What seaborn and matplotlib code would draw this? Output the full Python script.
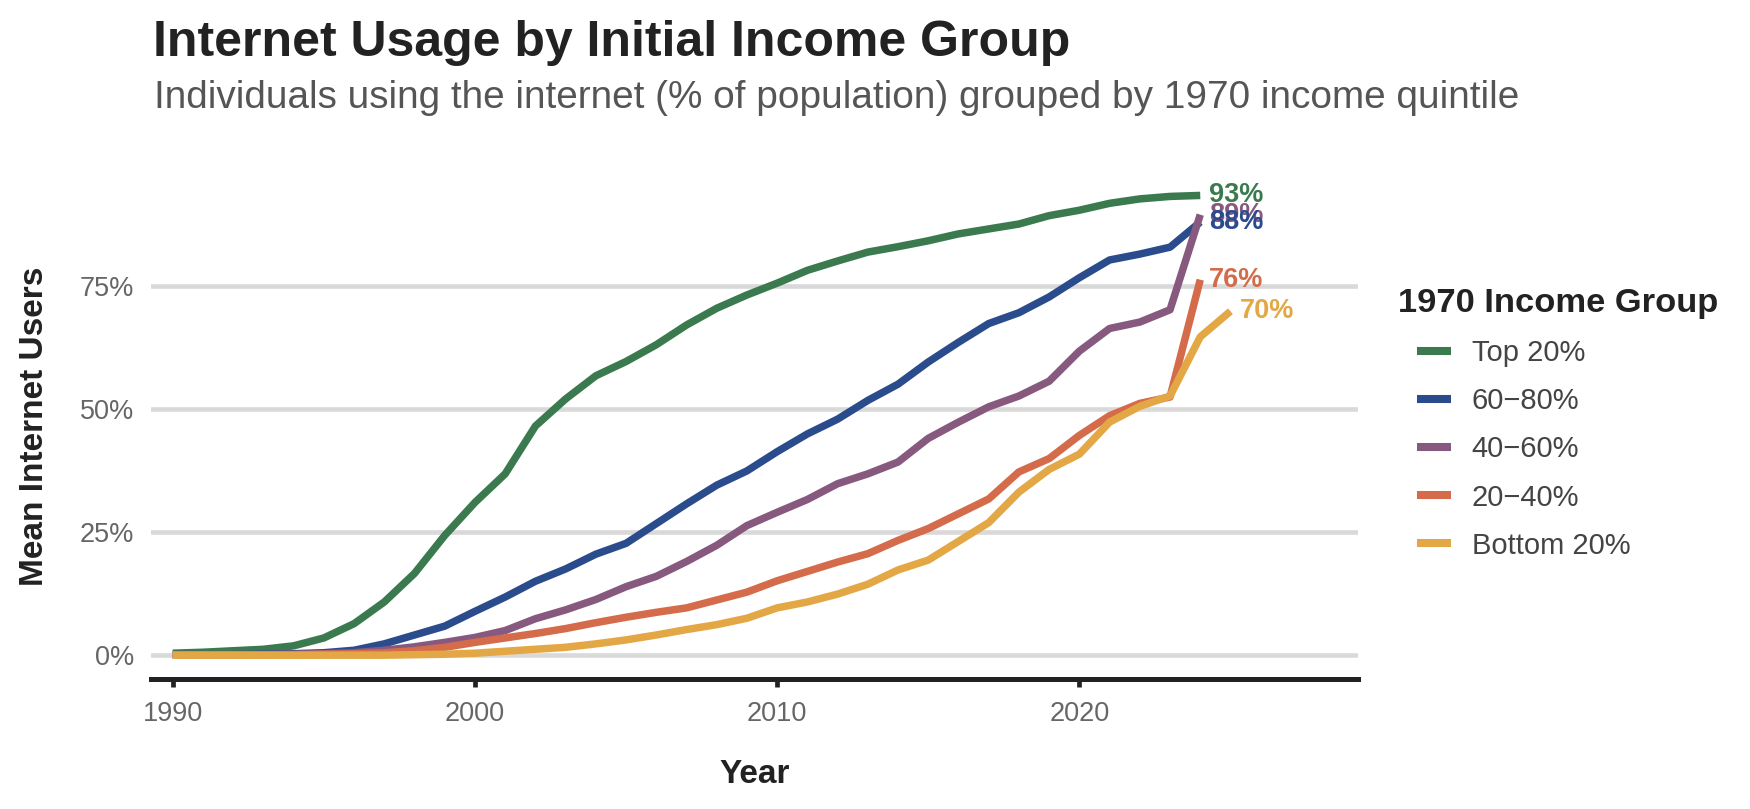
import numpy as np
import pandas as pd
import matplotlib
matplotlib.use("Agg")
import matplotlib.pyplot as plt
import seaborn as sns
from matplotlib.lines import Line2D
from matplotlib.legend_handler import HandlerLine2D

# ---------------- data ----------------
years = list(range(1990, 2025))
years_bottom = list(range(1990, 2026))

top20 = [0.4, 0.6, 0.9, 1.2, 1.9, 3.5, 6.4, 10.8, 16.6, 24.3, 31.0, 36.8, 46.5, 52.0, 56.7,
         59.6, 63.0, 67.0, 70.4, 73.1, 75.5, 78.1, 80.0, 81.8, 82.9, 84.1, 85.5, 86.5, 87.5,
         89.2, 90.3, 91.7, 92.6, 93.1, 93.3]
q60_80 = [0.1, 0.1, 0.1, 0.2, 0.3, 0.5, 1.0, 2.3, 4.1, 5.9, 8.9, 11.8, 15.0, 17.5, 20.5,
          22.7, 26.7, 30.7, 34.5, 37.4, 41.3, 44.9, 47.9, 51.7, 55.0, 59.5, 63.5, 67.3, 69.5,
          72.7, 76.6, 80.2, 81.4, 82.8, 87.9]
q40_60 = [0.1, 0.1, 0.1, 0.1, 0.2, 0.3, 0.5, 1.0, 1.7, 2.6, 3.6, 5.0, 7.4, 9.2, 11.3,
          13.9, 16.0, 19.0, 22.3, 26.3, 29.0, 31.6, 34.8, 36.8, 39.2, 44.0, 47.3, 50.4, 52.6,
          55.6, 61.7, 66.3, 67.6, 70.1, 89.4]
q20_40 = [0.1, 0.1, 0.1, 0.1, 0.1, 0.2, 0.3, 0.5, 0.9, 1.6, 2.6, 3.5, 4.4, 5.4, 6.6,
          7.7, 8.7, 9.6, 11.2, 12.8, 15.1, 17.0, 18.9, 20.6, 23.3, 25.7, 28.7, 31.7, 37.2,
          39.9, 44.6, 48.6, 51.1, 52.4, 76.2]
bottom20 = [0.0, 0.0, 0.0, 0.0, 0.0, 0.0, 0.0, 0.0, 0.1, 0.2, 0.4, 0.8, 1.2, 1.6, 2.3,
            3.1, 4.1, 5.2, 6.2, 7.5, 9.6, 10.8, 12.4, 14.4, 17.3, 19.3, 23.1, 26.9, 33.1,
            37.7, 40.8, 47.3, 50.5, 52.6, 64.6, 69.8]

groups = ["Top 20%", "60\u221280%", "40\u221260%", "20\u221240%", "Bottom 20%"]
colors = ["#3b7a4f", "#2b4c8c", "#87597f", "#d46b4b", "#e3a845"]

x_ticks = [1990, 2000, 2010, 2020]
y_ticks = [0, 25, 50, 75]
y_tick_labels = ["0%", "25%", "50%", "75%"]

title = "Internet Usage by Initial Income Group"
subtitle = "Individuals using the internet (% of population) grouped by 1970 income quintile"

# ---------------- frame ----------------
series = [(groups[0], years, top20), (groups[1], years, q60_80), (groups[2], years, q40_60),
          (groups[3], years, q20_40), (groups[4], years_bottom, bottom20)]
df = pd.concat([pd.DataFrame({"Year": yr, "Users": vals, "Group": g}) for g, yr, vals in series],
               ignore_index=True)

sns.set_theme(style="white")
plt.rcParams["font.family"] = ["Liberation Sans", "DejaVu Sans"]

W, H = 1750, 809
fig = plt.figure(figsize=(W / 100, H / 100), dpi=100)
ax_l, ax_r, ax_t, ax_b = 151, 1358, 174, 678.5
ax = fig.add_axes([ax_l / W, 1 - ax_b / H, (ax_r - ax_l) / W, (ax_b - ax_t) / H])

palette = dict(zip(groups, colors))
sns.lineplot(data=df, x="Year", y="Users", hue="Group", hue_order=groups, palette=palette,
             linewidth=5.4, ax=ax, solid_capstyle="butt", solid_joinstyle="round",
             legend=False, sort=True, estimator=None)

# end labels (drawn bottom group first so upper-group labels sit in front)
for g, yr, vals in reversed(series):
    ax.text(yr[-1] + 0.3, vals[-1], f"{round(vals[-1])}%", color=palette[g], fontsize=19.5,
            fontweight="bold", ha="left", va="center")

ax.set_xlim(1989.28, 2029.22)
ax.set_ylim(-4.73, 97.65)
ax.set_xticks(x_ticks)
ax.set_yticks(y_ticks)
ax.set_yticklabels(y_tick_labels)
ax.grid(axis="y", color="#d9d9d9", linewidth=3.3)
ax.grid(axis="x", visible=False)
ax.set_axisbelow(True)
for s in ["top", "right", "left"]:
    ax.spines[s].set_visible(False)
ax.spines["bottom"].set_color("#222222")
ax.spines["bottom"].set_linewidth(3.6)
ax.tick_params(axis="x", length=6, width=3.4, color="#222222", labelsize=19.5,
               labelcolor="#666666", pad=10, bottom=True, direction="out")
ax.tick_params(axis="y", length=0, labelsize=19.5, labelcolor="#666666", pad=12)

ax.set_xlabel("Year", fontsize=24, fontweight="bold", color="#222222")
ax.set_ylabel("Mean Internet Users", fontsize=24, fontweight="bold", color="#222222")
axw, axh = ax_r - ax_l, ax_b - ax_t
ax.xaxis.set_label_coords(0.5, -(759 - ax_b) / axh)
ax.yaxis.set_label_coords(-(151 - 50) / axw, 0.5)


# legend: key lines indented relative to the legend title
class IndentedLine(HandlerLine2D):
    def __init__(self, indent_px, **kw):
        super().__init__(**kw)
        self.indent_px = indent_px

    def create_artists(self, legend, orig_handle, xdescent, ydescent, width, height,
                       fontsize, trans):
        arts = super().create_artists(legend, orig_handle, xdescent, ydescent, width,
                                      height, fontsize, trans)
        ymid = (height - ydescent) / 2
        for a in arts:
            if isinstance(a, Line2D):
                a.set_data([-xdescent + self.indent_px, -xdescent + width], [ymid, ymid])
        return arts


leg_fs = 21
handles = [Line2D([0], [0], color=c, linewidth=5.8, solid_capstyle="butt") for c in colors]
leg = fig.legend(handles, groups, title="1970 Income Group", loc="upper left",
                 bbox_to_anchor=(1398 / W, 1 - 288 / H), frameon=False, fontsize=leg_fs,
                 title_fontproperties={"weight": "bold", "size": 24.8},
                 handlelength=(1451 - 1398) / (leg_fs * 100 / 72),
                 handletextpad=0.71, labelspacing=0.69,
                 borderpad=0, borderaxespad=0, alignment="left",
                 handler_map={Line2D: IndentedLine(13.7)})
for t in leg.get_texts():
    t.set_color("#444444")
leg.get_title().set_color("#222222")

fig.text(153 / W, 1 - 56.5 / H, title, fontsize=36, fontweight="bold", color="#222222",
         ha="left", va="baseline")
fig.text(154 / W, 1 - 108.5 / H, subtitle, fontsize=27.9, color="#555555",
         ha="left", va="baseline")

fig.savefig("out.png", dpi=100, facecolor="white")
